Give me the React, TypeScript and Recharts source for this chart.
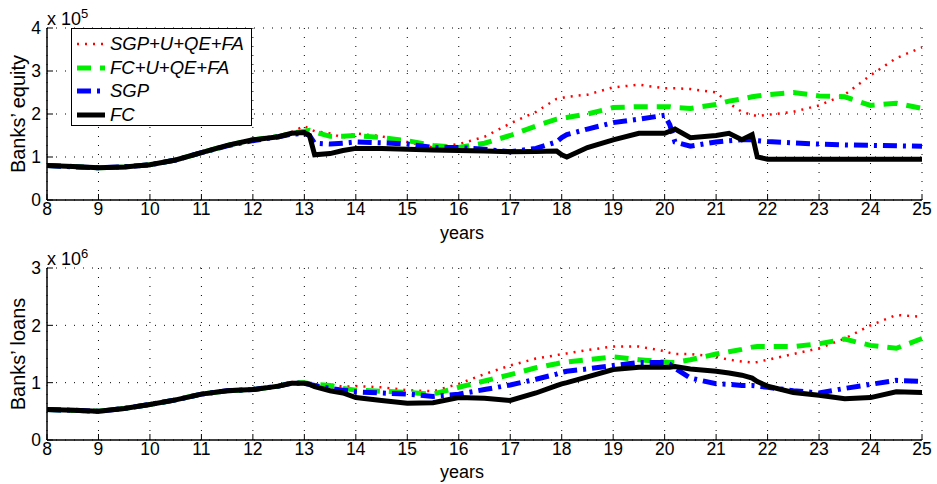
import { LineChart, Line, XAxis, YAxis, CartesianGrid } from 'recharts'

const years = [
  8, 8.5, 9, 9.5, 10, 10.5, 11, 11.5, 12, 12.5, 12.75, 13, 13.1, 13.2, 13.5, 13.75, 14, 14.5, 15, 15.5, 16, 16.5,
  17, 17.5, 17.9, 18, 18.1, 18.5, 19, 19.5, 20, 20.1, 20.2, 20.5, 21, 21.25, 21.5, 21.7, 21.8, 22, 22.5, 23, 23.5,
  24, 24.5, 25,
]

// banks' equity, x 10^5
const equitySgpU = [
  0.8, 0.78, 0.76, 0.78, 0.84, 0.95, 1.12, 1.28, 1.4, 1.5, 1.58, 1.72, 1.65, 1.6, 1.55, 1.45, 1.55, 1.48, 1.35, 1.22,
  1.3, 1.47, 1.78, 2.05, 2.35, 2.37, 2.4, 2.45, 2.62, 2.68, 2.6, 2.6, 2.6, 2.58, 2.5, 2.25, 2.05, 1.98, 1.95, 1.98,
  2.05, 2.2, 2.45, 2.9, 3.3, 3.55,
]
const equityFcU = [
  0.8, 0.78, 0.75, 0.77, 0.82, 0.93, 1.1, 1.27, 1.4, 1.48, 1.55, 1.6, 1.62, 1.58, 1.48, 1.48, 1.5, 1.45, 1.38, 1.27,
  1.22, 1.32, 1.5, 1.72, 1.88, 1.9, 1.92, 2.0, 2.15, 2.17, 2.17, 2.17, 2.15, 2.13, 2.22, 2.3, 2.35, 2.4, 2.42, 2.45,
  2.5, 2.42, 2.4, 2.2, 2.25, 2.13,
]
const equitySgp = [
  0.8, 0.77, 0.75, 0.77, 0.82, 0.93, 1.1, 1.26, 1.38, 1.47, 1.53, 1.55, 1.5, 1.32, 1.3, 1.32, 1.35, 1.33, 1.3, 1.22,
  1.22, 1.18, 1.12, 1.2, 1.35, 1.45, 1.52, 1.65, 1.8, 1.88, 1.97, 1.75, 1.35, 1.25, 1.35, 1.38, 1.4, 1.4, 1.38, 1.36,
  1.33, 1.3, 1.28, 1.27, 1.26, 1.25,
]
const equityFc = [
  0.8, 0.78, 0.75, 0.77, 0.82, 0.93, 1.1, 1.27, 1.4, 1.47, 1.55, 1.57, 1.5, 1.05, 1.08, 1.15, 1.2, 1.2, 1.18, 1.16,
  1.15, 1.14, 1.12, 1.13, 1.14, 1.05, 1.0, 1.22, 1.4, 1.55, 1.55, 1.6, 1.65, 1.45, 1.5, 1.55, 1.4, 1.52, 1.0, 0.95,
  0.95, 0.95, 0.95, 0.95, 0.95, 0.95,
]

// banks' loans, x 10^6
const loansSgpU = [
  0.53, 0.5, 0.48, 0.55, 0.6, 0.7, 0.82, 0.86, 0.87, 0.93, 1.01, 0.99, 0.98, 0.97, 0.97, 0.93, 0.94, 0.92, 0.87, 0.85,
  0.98, 1.15, 1.3, 1.42, 1.48, 1.5, 1.51, 1.57, 1.63, 1.63, 1.55, 1.52, 1.5, 1.5, 1.45, 1.4, 1.37, 1.35, 1.36, 1.4,
  1.5, 1.6, 1.77, 2.0, 2.18, 2.15,
]
const loansFcU = [
  0.53, 0.52, 0.5, 0.55, 0.62, 0.7, 0.8, 0.86, 0.88, 0.94, 1.0, 1.0, 0.98, 0.97, 0.95, 0.9, 0.87, 0.85, 0.83, 0.8,
  0.92, 1.03, 1.14, 1.26, 1.33, 1.35, 1.36, 1.4, 1.45, 1.4, 1.36, 1.35, 1.35, 1.4, 1.5, 1.54, 1.58, 1.62, 1.63, 1.63,
  1.63, 1.68, 1.76, 1.65, 1.6, 1.77,
]
const loansSgp = [
  0.53, 0.52, 0.5, 0.55, 0.62, 0.7, 0.8, 0.86, 0.88, 0.94, 0.99, 0.99, 0.97, 0.95, 0.9, 0.87, 0.84, 0.82, 0.8, 0.76,
  0.8, 0.88, 0.96, 1.06, 1.15, 1.18, 1.2, 1.24, 1.3, 1.35, 1.35, 1.32, 1.25, 1.08, 0.98, 0.97, 0.95, 0.95, 0.94, 0.92,
  0.86, 0.82, 0.9, 0.97, 1.04, 1.02,
]
const loansFc = [
  0.53, 0.52, 0.5, 0.55, 0.62, 0.7, 0.8, 0.86, 0.88, 0.94, 0.99, 0.99, 0.97, 0.93, 0.86, 0.82, 0.74, 0.69, 0.64, 0.65,
  0.74, 0.73, 0.69, 0.82, 0.95, 0.98, 1.0, 1.1, 1.23, 1.27, 1.27, 1.27, 1.28, 1.24, 1.2, 1.17, 1.13, 1.08, 1.02, 0.94,
  0.83, 0.78, 0.72, 0.74, 0.84, 0.83,
]

const xTicks = [8, 9, 10, 11, 12, 13, 14, 15, 16, 17, 18, 19, 20, 21, 22, 23, 24, 25]
const equityTicks = [0, 1, 2, 3, 4]
const loansTicks = [0, 1, 2, 3]

const seriesNames = ['SGP+U+QE+FA', 'FC+U+QE+FA', 'SGP', 'FC']

const STYLES = [
  { stroke: '#ff0000', strokeWidth: 2.5, dash: '2 6' },
  { stroke: '#00ee00', strokeWidth: 5, dash: '14 9' },
  { stroke: '#0000ff', strokeWidth: 5, dash: '14 6 3 6' },
  { stroke: '#000000', strokeWidth: 5, dash: undefined },
]

const FONT = '"Liberation Sans", Arial, sans-serif'

const equityData = years.map((y, i) => ({ y, s0: equitySgpU[i], s1: equityFcU[i], s2: equitySgp[i], s3: equityFc[i] }))
const loansData = years.map((y, i) => ({ y, s0: loansSgpU[i], s1: loansFcU[i], s2: loansSgp[i], s3: loansFc[i] }))

const tickStyle = { fontSize: 17.5, fill: '#000', fontFamily: FONT }
const blank = () => <g />

function Panel({ data, yTicks, height, marginBottom }: { data: any[]; yTicks: number[]; height: number; marginBottom: number }) {
  const yMax = yTicks[yTicks.length - 1]
  return (
    <LineChart width={937} height={height} data={data} margin={{ top: 28, right: 15, left: 7, bottom: marginBottom }}>
      <CartesianGrid stroke="#000" strokeDasharray="1 8" />
      <XAxis
        dataKey="y"
        type="number"
        domain={[8, 25]}
        ticks={xTicks}
        height={30}
        tick={tickStyle}
        tickSize={-6}
        tickMargin={9}
        axisLine={{ stroke: '#000', strokeWidth: 1.5 }}
        tickLine={{ stroke: '#000' }}
        interval={0}
      />
      <XAxis
        xAxisId="top"
        orientation="top"
        dataKey="y"
        type="number"
        domain={[8, 25]}
        ticks={xTicks}
        height={0}
        tick={blank}
        tickSize={-6}
        axisLine={{ stroke: '#000', strokeWidth: 1.5 }}
        tickLine={{ stroke: '#000' }}
        interval={0}
      />
      <YAxis
        type="number"
        domain={[0, yMax]}
        ticks={yTicks}
        width={40}
        tick={tickStyle}
        tickSize={-6}
        tickMargin={12}
        axisLine={{ stroke: '#000', strokeWidth: 1.5 }}
        tickLine={{ stroke: '#000' }}
        interval={0}
      />
      <YAxis
        yAxisId="right"
        orientation="right"
        type="number"
        domain={[0, yMax]}
        ticks={yTicks}
        width={0}
        tick={blank}
        tickSize={-6}
        axisLine={{ stroke: '#000', strokeWidth: 1.5 }}
        tickLine={{ stroke: '#000' }}
        interval={0}
      />
      {STYLES.map((s, i) => (
        <Line
          key={i}
          dataKey={'s' + i}
          type="linear"
          stroke={s.stroke}
          strokeWidth={s.strokeWidth}
          strokeDasharray={s.dash}
          dot={false}
          isAnimationActive={false}
        />
      ))}
    </LineChart>
  )
}

function Legend() {
  return (
    <div
      style={{
        position: 'absolute',
        left: 71,
        top: 28,
        width: 181,
        height: 98,
        border: '1.5px solid #000',
        background: '#fff',
        boxSizing: 'border-box',
      }}
    >
      {seriesNames.map((name, i) => (
        <div key={name} style={{ position: 'absolute', left: 4, top: 4 + i * 23.5, height: 22, display: 'flex', alignItems: 'center' }}>
          <svg width={30} height={22}>
            <line
              x1={1}
              x2={29}
              y1={11}
              y2={11}
              stroke={STYLES[i].stroke}
              strokeWidth={STYLES[i].strokeWidth}
              strokeDasharray={STYLES[i].dash}
            />
          </svg>
          <span style={{ fontFamily: FONT, fontStyle: 'italic', fontSize: 18.5, marginLeft: 4, lineHeight: '22px' }}>{name}</span>
        </div>
      ))}
    </div>
  )
}

const textBase = { position: 'absolute' as const, fontFamily: FONT, color: '#000', whiteSpace: 'nowrap' as const }

export default function App() {
  return (
    <div style={{ position: 'absolute', left: 0, top: 0, width: 937, height: 484, background: '#fff', overflow: 'hidden' }}>
      <div style={{ position: 'absolute', left: 0, top: 0 }}>
        <Panel data={equityData} yTicks={equityTicks} height={240} marginBottom={10} />
      </div>
      <div style={{ position: 'absolute', left: 0, top: 240 }}>
        <Panel data={loansData} yTicks={loansTicks} height={244} marginBottom={14} />
      </div>
      <Legend />
      <div style={{ ...textBase, left: 47, top: 6, fontSize: 18 }}>
        x 10<sup style={{ fontSize: 13 }}>5</sup>
      </div>
      <div style={{ ...textBase, left: 47, top: 246, fontSize: 18 }}>
        x 10<sup style={{ fontSize: 13 }}>6</sup>
      </div>
      <div style={{ ...textBase, left: 462, top: 224, fontSize: 18, lineHeight: '18px', transform: 'translateX(-50%)' }}>years</div>
      <div style={{ ...textBase, left: 462, top: 463, fontSize: 18, lineHeight: '18px', transform: 'translateX(-50%)' }}>years</div>
      <div
        style={{ ...textBase, left: 18, top: 114, fontSize: 20, lineHeight: '20px', transform: 'translate(-50%, -50%) rotate(-90deg)' }}
      >
        Banks’ equity
      </div>
      <div
        style={{ ...textBase, left: 18, top: 354, fontSize: 20, lineHeight: '20px', transform: 'translate(-50%, -50%) rotate(-90deg)' }}
      >
        Banks’ loans
      </div>
    </div>
  )
}
